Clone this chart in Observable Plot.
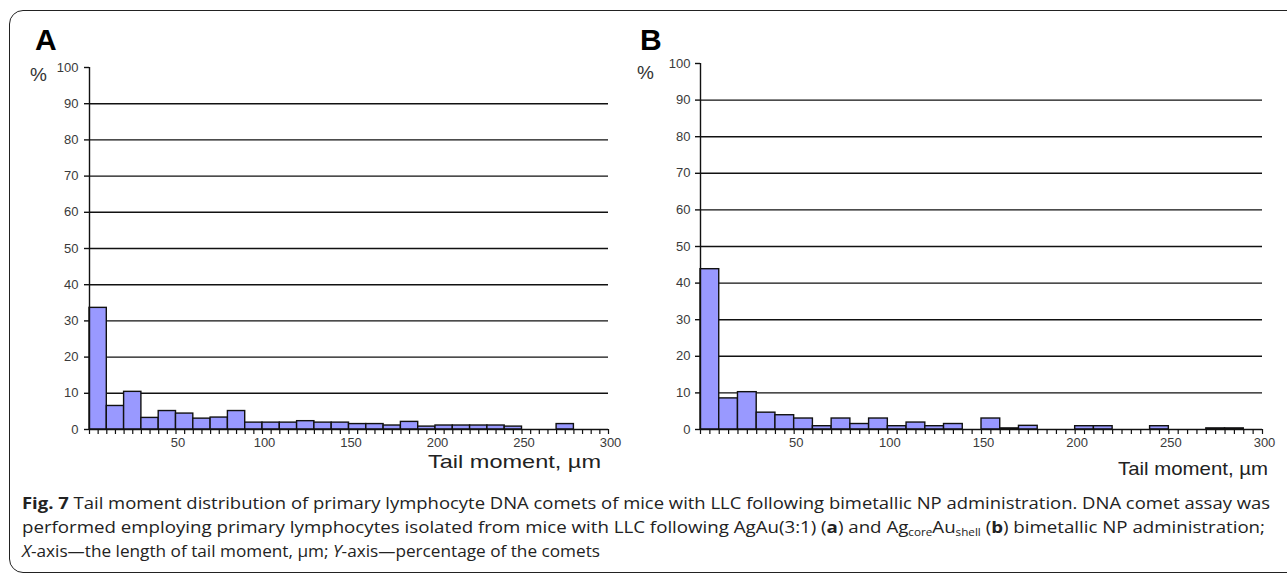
<!DOCTYPE html>
<html>
<head>
<meta charset="utf-8">
<script src="https://cdn.jsdelivr.net/npm/d3@7"></script>
<script src="https://cdn.jsdelivr.net/npm/@observablehq/plot@0.6"></script>
<style>
  html, body { margin: 0; padding: 0; background: #fff; overflow: hidden; width: 1287px; height: 576px; }
  #frame { position: absolute; left: 9px; top: 10px; width: 1320px; height: 563px; border: 1.6px solid #222; border-radius: 14px; box-sizing: border-box; }
  .abs { position: absolute; white-space: nowrap; }
  .letter { font-family: "Liberation Sans", Arial, sans-serif; font-weight: bold; font-size: 30px; color: #000; line-height: 1; }
  .pct { font-family: "Liberation Sans", Arial, sans-serif; font-size: 19px; color: #333; line-height: 1; }
  .xlab { font-family: "Liberation Sans", Arial, sans-serif; color: #222; line-height: 1; font-size: 19px; transform-origin: 0 50%; }
  #caption { position: absolute; left: 22px; top: 491px; font-family: "Open Sans", sans-serif; font-size: 16px; line-height: 24px; color: #222; white-space: nowrap; }
  #caption .ln { display: block; transform-origin: 0 50%; }
  #caption sub { font-size: 10px; vertical-align: -3px; line-height: 0; }
  #panelA, #panelB { position: absolute; top: 0; }
  #panelA { left: 0; }
  #panelB { left: 640px; }
</style>
</head>
<body>
<div id="frame"></div>
<div id="panelA"></div>
<div id="panelB"></div>
<div class="abs letter" style="left:35px; top:25px;">A</div>
<div class="abs letter" style="left:640px; top:25px;">B</div>
<div class="abs pct" style="left:30px; top:65px;">%</div>
<div class="abs pct" style="left:637px; top:63px;">%</div>
<div class="abs xlab fit" data-w="173" style="left:428px; top:452px;">Tail moment, µm</div>
<div class="abs xlab fit" data-w="150" style="left:1118px; top:459px;">Tail moment, µm</div>
<div id="caption">
  <span class="ln fit" data-w="1248"><b>Fig. 7</b> Tail moment distribution of primary lymphocyte DNA comets of mice with LLC following bimetallic NP administration. DNA comet assay was</span>
  <span class="ln fit" data-w="1243">performed employing primary lymphocytes isolated from mice with LLC following AgAu(3:1) (<b>a</b>) and Ag<sub>core</sub>Au<sub>shell</sub> (<b>b</b>) bimetallic NP administration;</span>
  <span class="ln fit" data-w="578"><i>X</i>-axis—the length of tail moment, µm; <i>Y</i>-axis—percentage of the comets</span>
</div>
<script>
// Histogram bins (tail moment, µm): bin start values, bin width 10
const binStart = [0, 10, 20, 30, 40, 50, 60, 70, 80, 90, 100, 110, 120, 130, 140, 150, 160, 170, 180, 190, 200, 210, 220, 230, 240, 250, 260, 270, 280, 290];
const binWidth = 10;
// Panel A: AgAu(3:1), % of comets
const valuesA = [33.6, 6.5, 10.4, 3.2, 5.1, 4.4, 3.0, 3.3, 5.1, 1.9, 1.9, 1.9, 2.3, 1.9, 1.9, 1.5, 1.5, 1.1, 2.1, 0.8, 1.1, 1.1, 1.1, 1.1, 0.8, 0, 0, 1.5, 0, 0];
// Panel B: Ag-core Au-shell, % of comets
const valuesB = [43.8, 8.5, 10.2, 4.6, 3.9, 3.0, 0.9, 3.0, 1.5, 3.0, 0.9, 1.9, 0.9, 1.5, 0, 3.0, 0.3, 1.0, 0, 0, 0.9, 0.9, 0, 0, 0.9, 0, 0, 0.3, 0.3, 0];
const yTicks = [0, 10, 20, 30, 40, 50, 60, 70, 80, 90, 100];
const gridLevels = [10, 20, 30, 40, 50, 60, 70, 80, 90];
const xMinorTicks = d3.range(0, 301, 5);
const xLabelTicks = [50, 100, 150, 200, 250, 300];

function panel(values, opts) {
  const data = binStart.map((s, i) => ({x1: s, x2: s + binWidth, v: values[i]})).filter(d => d.v > 0);
  return Plot.plot({
    width: opts.width,
    height: 480,
    marginLeft: opts.ml,
    marginRight: opts.mr,
    marginTop: opts.mt,
    marginBottom: 51,
    style: {fontFamily: "Liberation Sans, Arial, sans-serif", fontSize: "13px", color: "#3a3a3a", background: "transparent"},
    x: {domain: [0, 300]},
    y: {domain: [0, 100]},
    marks: [
      Plot.ruleY(gridLevels, {x1: 0, x2: 300, stroke: "#111", strokeWidth: 1.4}),
      Plot.rectY(data, {x1: "x1", x2: "x2", y1: 0, y2: "v", fill: "#9999ff", stroke: "#111", strokeWidth: 1.4}),
      Plot.ruleX([0], {y1: 0, y2: 100, stroke: "#111", strokeWidth: 1.4}),
      Plot.ruleY([0], {x1: 0, x2: 300, stroke: "#111", strokeWidth: 1.4}),
      Plot.axisY(yTicks, {tickSize: 5, tickPadding: opts.tp, stroke: "#111", strokeWidth: 1.4, fill: "#3a3a3a", label: null}),
      Plot.axisX(xMinorTicks, {tickSize: 5, tickFormat: () => "", stroke: "#111", strokeWidth: 1.2, label: null}),
      Plot.axisX(xLabelTicks, {tickSize: 0, tickPadding: 8, fill: "#3a3a3a", label: null, dx: 2})
    ]
  });
}

document.getElementById("panelA").appendChild(panel(valuesA, {width: 640, ml: 89, mr: 32, mt: 67, tp: 6}));
document.getElementById("panelB").appendChild(panel(valuesB, {width: 647, ml: 60, mr: 25, mt: 63, tp: 5}));

// fit text lines to the reference widths
document.querySelectorAll(".fit").forEach(el => {
  const prev = el.style.display;
  el.style.display = "inline-block";
  const w = el.getBoundingClientRect().width;
  const target = +el.dataset.w;
  el.style.transform = `scaleX(${target / w})`;
  el.style.display = prev || "";
  el.style.width = "max-content";
});
</script>
</body>
</html>
